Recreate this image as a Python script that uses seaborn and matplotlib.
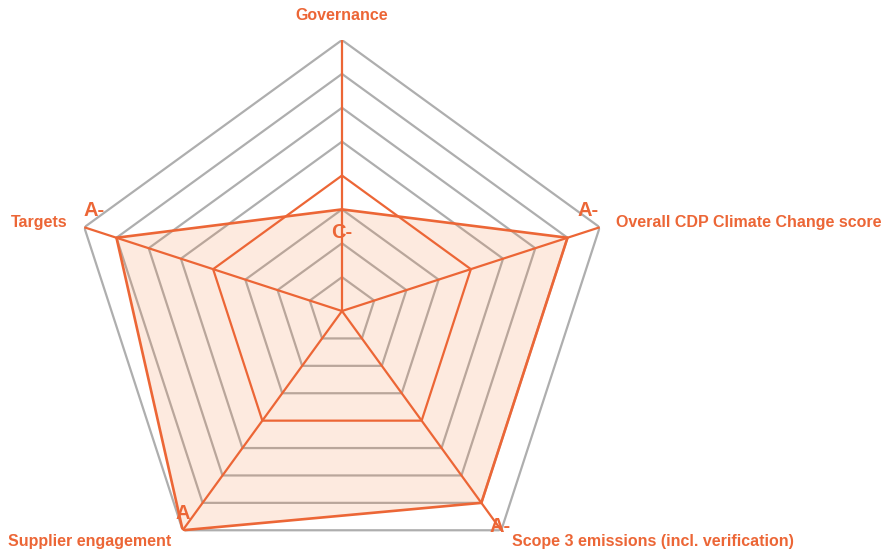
import numpy as np
import pandas as pd
import matplotlib
matplotlib.use("Agg")
import matplotlib.pyplot as plt
import seaborn as sns

# ---- data ----
categories = ["Governance", "Overall CDP Climate Change score",
              "Scope 3 emissions (incl. verification)", "Supplier engagement", "Targets"]
grades = ["C-", "A-", "A-", "A", "A-"]
scores = [3, 7, 7, 8, 7]            # numeric position of each grade on the scale
benchmark = [4, 4, 4, 4, 4]         # highlighted reference level
n_levels = 8

ORANGE = "#EC6636"
FILL = "#F7803A"
GRAY = "#AEAEAE"

sns.set_theme(style="white")
plt.rcParams["font.family"] = ["Liberation Sans", "DejaVu Sans"]

fig = plt.figure(figsize=(8.83, 5.56), dpi=100)
ax = fig.add_axes([0.0804, -0.0468, 0.6138, 0.9748], projection="polar")
ax.set_theta_offset(np.pi / 2)
ax.set_theta_direction(-1)

n = len(categories)
theta = np.linspace(0, 2 * np.pi, n, endpoint=False)
theta_c = np.append(theta, 2 * np.pi)

# polygon grid rings
for lvl in range(1, n_levels + 1):
    if lvl == benchmark[0]:
        continue
    ax.plot(theta_c, [lvl] * (n + 1), color=GRAY, lw=1.6, zorder=1)

# spokes
for t in theta:
    ax.plot([t, t], [0, n_levels], color=ORANGE, lw=1.6, zorder=3)

# benchmark ring
bdf = pd.DataFrame({"theta": theta_c, "r": benchmark + benchmark[:1]})
sns.lineplot(data=bdf, x="theta", y="r", sort=False, estimator=None, ax=ax,
             color=ORANGE, lw=1.6, zorder=3)

# main series
df = pd.DataFrame({"theta": theta_c, "r": scores + scores[:1]})
ax.fill(df["theta"], df["r"], color=FILL, alpha=0.16, lw=0, zorder=2)
sns.lineplot(data=df, x="theta", y="r", sort=False, estimator=None, ax=ax,
             color=ORANGE, lw=1.9, zorder=4)

# value labels
val_offsets = [(0, -23), (21, 27), (19, -24), (0, 17), (-22, 27)]
for t, r, g, off in zip(theta, scores, grades, val_offsets):
    ax.annotate(g, xy=(t, r), xytext=off, textcoords="offset pixels",
                ha="center", va="center", color=ORANGE, fontsize=14.5,
                fontweight="bold", annotation_clip=False, zorder=5)

# axis names
name_offsets = [((0, 25), "center"), ((16, 5), "left"), ((11, -11), "left"),
                ((-11, -11), "right"), ((-17, 5), "right")]
for t, name, (off, ha) in zip(theta, categories, name_offsets):
    ax.annotate(name, xy=(t, n_levels), xytext=off, textcoords="offset pixels",
                ha=ha, va="center", color=ORANGE, fontsize=11.5,
                fontweight="bold", annotation_clip=False)

ax.set_ylim(0, n_levels)
ax.set_xticks([])
ax.set_yticks([])
ax.grid(False)
ax.spines["polar"].set_visible(False)
ax.set_xlabel("")
ax.set_ylabel("")
ax.patch.set_alpha(0)
if ax.get_legend():
    ax.get_legend().remove()

fig.savefig("out.png", dpi=100)
